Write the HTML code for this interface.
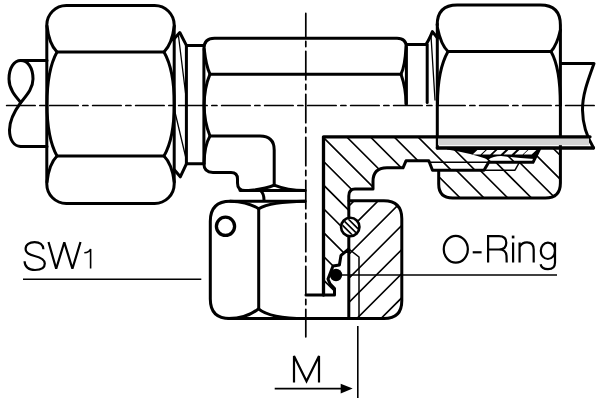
<!DOCTYPE html>
<html><head><meta charset="utf-8">
<style>
html,body{margin:0;padding:0;background:#fff;}
body{width:600px;height:400px;overflow:hidden;position:relative;}
svg{position:absolute;left:0;top:0;}
</style></head><body>
<svg width="600" height="400" viewBox="0 0 600 400">
<defs>
<clipPath id="cb"><path d="M323.5 136.8 H437.3 V148 H539.5 L533 162.3 H488.7 L484 170.2 H432.5 L428.8 160.8 H406 L403 167.8 H387 Q373 167.8 373 181.5 V189 H355 Q348.8 189 348.8 196 V249 L341 255.3 L339.4 265 L333 266 L328 279 L330 283.8 L334.5 288.6 V295 H323.5 Z"/></clipPath>
<clipPath id="cn"><path d="M438.5 170.2 H484 L488.7 162.3 H533 L539.5 148 H560 V183 Q560 198 545 198 H448 Q438.5 198 438.5 188 Z"/></clipPath>
<clipPath id="cf"><path d="M348.8 200.8 H383.8 Q401.8 200.8 401.8 218.8 V300.5 Q401.8 318.5 383.8 318.5 H348.8 Z"/></clipPath>
<clipPath id="co"><circle cx="350.25" cy="227" r="8"/></clipPath>
</defs>
<g fill="none" stroke="#000" stroke-linecap="round" stroke-linejoin="round">
<!-- hatching -->
<g stroke-width="1.6" clip-path="url(#cb)">
<path d="M116.0 120 L326.0 330 M139.8 120 L349.8 330 M163.5 120 L373.5 330 M187.2 120 L397.2 330 M211.0 120 L421.0 330 M234.8 120 L444.8 330 M258.5 120 L468.5 330 M282.2 120 L492.2 330 M306.0 120 L516.0 330 M329.8 120 L539.8 330 M353.5 120 L563.5 330 M377.2 120 L587.2 330 M401.0 120 L611.0 330 M424.8 120 L634.8 330 M448.5 120 L658.5 330 M472.2 120 L682.2 330 M496.0 120 L706.0 330"/>
</g>
<g stroke-width="1.6" clip-path="url(#cn)"><path d="M358.5 120 L568.5 330 M382.2 120 L592.2 330 M406.0 120 L616.0 330 M429.8 120 L639.8 330 M453.5 120 L663.5 330 M477.2 120 L687.2 330 M501.0 120 L711.0 330 M524.8 120 L734.8 330 M548.5 120 L758.5 330 M572.2 120 L782.2 330"/></g>
<g stroke-width="1.6" clip-path="url(#cf)">
<path d="M340.8 190 L200.8 330 M364.9 190 L224.9 330 M389.0 190 L249.0 330 M413.1 190 L273.1 330 M437.2 190 L297.2 330 M461.3 190 L321.3 330 M485.4 190 L345.4 330 M509.5 190 L369.5 330 M533.6 190 L393.6 330 M557.7 190 L417.7 330"/>
</g>
<!-- center lines -->
<g stroke-width="1.7" stroke-linecap="round">
<line x1="6.65" y1="105.5" x2="594.2" y2="105.5" stroke-dasharray="28.5 4.7 5.1 4.7"/>
<line x1="305.8" y1="13.4" x2="305.8" y2="336.8" stroke-dasharray="28.5 4.7 5.1 4.7" stroke-dashoffset="5.15"/>
</g>
<!-- left pipe -->
<g stroke-width="3">
<path d="M20.8 60.5 H47 M21 146.5 H47"/>
<path d="M20.8 60.5 C14 60.5 9 68 9 79 C9 89 15 96 20.8 102.5"/>
<path d="M20.8 60.5 C28 60.5 33 68 33 79 C33 89 26 96 20.8 102.5 C16 109 9.5 119 9.5 130 C9.5 140 14 146.5 21 146.5"/>
</g>
<!-- nut 1 -->
<g stroke-width="3">
<rect x="46.8" y="5.6" width="127.4" height="197.8" rx="19.5"/>
<path d="M57 52 H164 M57 156 H164"/>
<path d="M47 26 Q49 44 57 52 Q47 70 47 104 Q47 138 57 156 Q49 164 47 182"/>
<path d="M174.3 26 Q172 44 164 52 Q174.3 70 174.3 104 Q174.3 138 164 156 Q172 164 174.3 182"/>
</g>
<!-- chamfer left -->
<g stroke-width="3">
<path d="M173 40 L179.8 32.5 L186.4 45.4 H204"/>
<path d="M186.4 45.4 V163.8 H204"/>
<path d="M174.5 170 L180.3 176.8 L186.4 163.8"/>
</g>
<g stroke-width="1.3">
<path d="M178.5 36 L186.4 100"/>
<path d="M174 108 L186.4 160"/>
</g>
<!-- tee body upper -->
<g stroke-width="3">
<path d="M203.9 163.8 V49 Q203.9 38.2 214.5 38.2 H397 Q406.4 38.2 406.4 47.5 V104"/>
<path d="M210 74.2 H401"/>
<path d="M204.2 49 Q206 66 210 74.2 Q204.2 88 204.2 105 Q204.2 122 210 136 Q204.2 146 204.2 163"/>
<path d="M406 47 Q405 66 401 74.2 Q406 88 406 104"/>
<path d="M210 136 H260 Q274.2 136 274.2 150 V185.5"/>
<path d="M203.9 163.8 Q203.9 172.5 213 172.5 H231 Q237.5 172.5 237.5 179 V183 Q237.5 190.5 245 190.5 H305"/>
<path d="M240 190.6 Q262 190.5 274.2 185.2 Q287 190.5 305 190.6"/>
<path d="M261 191 Q264 194 264 200"/>
</g>
<!-- chamfer right -->
<g stroke-width="3">
<path d="M406.4 44.4 H426 Q429 40 432.4 31.6 L437.5 38"/>
<path d="M427.2 44.4 V102.5"/>
<path d="M437.3 24 V148"/>
</g>
<g stroke-width="1.3">
<path d="M431 36 L435 100"/>
</g>
<!-- nut 2 -->
<g stroke-width="3">
<path d="M437.2 25 Q437.2 5 457.2 5 H540.4 Q560.4 5 560.4 25 V148"/>
<path d="M448 51.5 H551"/>
<path d="M437.5 28 Q441 45 448 51.5 Q437.5 70 437.5 104"/>
<path d="M560.4 30 Q557 45 551 51.5 Q560.4 68 560.4 105"/>
</g>
<!-- right pipe -->
<g stroke-width="3">
<path d="M560.4 63.4 H594 C588 80 582.3 95 582.5 110 C582.7 125 587.5 138 593.5 147.8"/>
</g>
<rect x="438" y="137.8" width="151" height="7.4" fill="#d3d3d3" stroke="none"/>
<g stroke-width="3.3">
<path d="M323.5 295 V136.8 H590"/>
<path d="M437.3 148 H593.5"/>
</g>
<!-- lower nut -->
<g stroke-width="3">
<path d="M305 201.2 H230.3 Q210.3 201.2 210.3 221.2 V299 Q210.3 318.6 230 318.6 H384 Q401.8 318.6 401.8 300.8 V218.8 Q401.8 200.8 383.8 200.8 H349"/>
<path d="M258.7 208.5 V308.8"/>
<path d="M230.3 201.2 Q248 201.8 258.7 208.7 Q270 201.8 305 201.2"/>
<path d="M228.3 318.6 Q247 318.4 258.5 308.8 Q270 318.4 305 318.6"/>
<circle cx="225.5" cy="226.3" r="9.1" stroke-width="3.3"/>
</g>
<!-- section inner contour body -->
<g stroke-width="3">
<path d="M348.8 318.5 V249 L341 255.3 L339.4 265 L333 266 L328 279 L330 283.8 L334.5 288.6 V295 H306"/>
<path d="M348.8 249 V196 Q348.8 189 355 189 H373 V181.5 Q373 167.8 387 167.8 H403 L406 160.8 H428.8 L432.5 170.2 H484 L488.7 162.3 H533 L539.5 149"/>
</g>
<g stroke-width="1.5">
<path d="M348.8 249 L359 257 V318.5"/>
<path d="M428.5 162.2 H488.7 M484 170.2 H515 L519 163"/>
</g>
<!-- nut2 section outline -->
<g stroke-width="3">
<path d="M438.7 171 V184 Q438.7 198 452.7 198 H545.4 Q560.4 198 560.4 183 V148"/>

</g>
<path fill="#000" stroke="none" d="M447 147 H540 L534.5 159 Q515 157.5 501 156 Q493 156 488.5 159.5 Q468 152.5 447 149.5 Z"/>
<path fill="#fff" stroke="none" d="M477.4 149.9 H485.4 L480.6 154.6 H472.6 Z M486.9 149.9 H494.9 L490.1 154.6 H482.1 Z M497.4 149.9 H505.4 L500.6 154.6 H492.6 Z M508.4 149.9 H516.4 L511.6 154.6 H503.6 Z M519.4 149.9 H527.4 L522.6 154.6 H514.6 Z M528.4 149.9 H536.4 L531.6 154.6 H523.6 Z"/>
<!-- O-rings -->
<circle cx="350.25" cy="227" r="9.2" stroke-width="2.6" fill="#fff"/>
<g clip-path="url(#co)" stroke-width="1.6"><path d="M327.25 210 L367.25 250 M333.25 210 L373.25 250 M339.25 210 L379.25 250"/></g>
<circle cx="336" cy="275" r="6.2" fill="#000" stroke="none"/>
<!-- leaders / dims -->
<g stroke-width="1.6" stroke-linecap="butt">
<path d="M23 279.3 H201.3"/>
<path d="M336 275 H557"/>
<path d="M357.8 326 V398"/>
<path d="M274.7 388.6 H342"/>
</g>
<path d="M352.7 388.6 L340.7 383.7 L340.7 393.4 Z" fill="#000" stroke="none"/>
</g>
<g fill="none" stroke="#000" stroke-width="2.2" stroke-linecap="butt" stroke-linejoin="miter">
<path d="M43.4 249.2 C43.2 244.6 39.6 242.1 34.6 242.1 C29.6 242.1 25.6 244.4 25.6 249 C25.6 253.4 29.4 254.8 34.6 256 C40.2 257.3 44.8 259 44.8 263.6 C44.8 268 40.6 270 35 270 C28.4 270 24.6 266.6 24.6 261.2"/>
<path stroke-linejoin="bevel" d="M48.5 242 L56.2 268.8 L64.3 242.2 L72.4 268.8 L80.5 242"/>
<path stroke-width="1.6" d="M90.6 268.5 V248.9 C89.8 251.2 88 252.4 84.3 252.7"/>
<ellipse cx="455.8" cy="249.2" rx="12.05" ry="13.4"/>
<path d="M472.7 252.3 H481.6"/>
<path d="M488.1 262.5 V236.2 H499 C503.8 236.2 506.3 238.9 506.3 242.8 C506.3 246.7 503.8 249.5 499 249.5 H488.1 M499 249.5 C504 249.5 506.3 251.5 506.5 256 L506.7 262.5"/>
<path d="M513.1 242.5 V262.6 M519.6 262.6 V242.5 M519.6 247 C521 244 523.5 242.3 527 242.3 C531.5 242.3 533.7 245 533.7 249.5 V262.6"/>
<path d="M555 242.5 V262.5 C555 267.3 552.5 269.2 548 269.2 C544 269.2 541.2 267.5 540.6 264.3"/>
<ellipse cx="547.9" cy="250.8" rx="7.1" ry="8.2"/>
<path d="M294 382.5 V356 L306.5 381.3 L319 356 V382.5"/>
</g>
<rect x="511.8" y="235.6" width="2.6" height="2.8" fill="#000"/>
</svg>
</body></html>
